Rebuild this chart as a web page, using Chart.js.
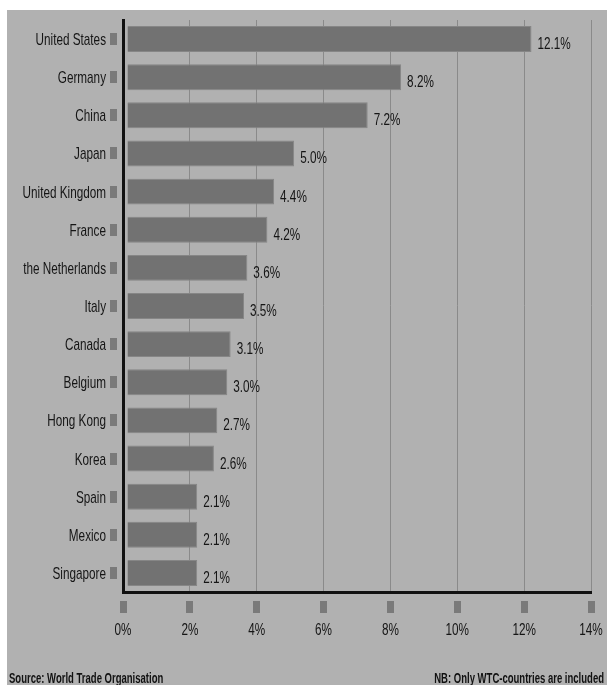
<!DOCTYPE html>
<html>
<head>
<meta charset="utf-8">
<script src="https://cdn.jsdelivr.net/npm/chart.js@4"></script>
<style>
  body { margin: 0; background: #fff; }
  #wrap { position: absolute; left: 7px; top: 10px; width: 600px; height: 675px; background: #b1b1b1; overflow: hidden; }
  #chart { position: absolute; left: 0; top: 0; }
</style>
</head>
<body>
<div id="wrap">
  <canvas id="chart" width="600" height="675"></canvas>
</div>
<script>
const countries = ["United States", "Germany", "China", "Japan", "United Kingdom", "France",
  "the Netherlands", "Italy", "Canada", "Belgium", "Hong Kong", "Korea", "Spain", "Mexico", "Singapore"];
const shares = [12.1, 8.2, 7.2, 5.0, 4.4, 4.2, 3.6, 3.5, 3.1, 3.0, 2.7, 2.6, 2.1, 2.1, 2.1];
const xTicks = [0, 2, 4, 6, 8, 10, 12, 14];
const sourceNote = "Source: World Trade Organisation";
const nbNote = "NB: Only WTC-countries are included";

const fontName = '"Liberation Sans", Arial, sans-serif';

// the original uses a narrow font, so squeeze the text horizontally
function narrowText(ctx, text, x, y, align, squeeze) {
  ctx.save();
  ctx.translate(x, y);
  ctx.scale(squeeze, 1);
  ctx.textAlign = align;
  ctx.textBaseline = "alphabetic";
  ctx.fillText(text, 0, 0);
  ctx.restore();
}

// shift the bars a few px off the axis, like the original
const barShift = {
  id: "barShift",
  beforeDatasetsDraw(chart) { chart.ctx.save(); chart.ctx.translate(4, 0); },
  afterDatasetsDraw(chart) { chart.ctx.restore(); }
};

// tick labels, little grey squares, value labels and footer
const decorations = {
  id: "decorations",
  afterDraw(chart) {
    const ctx = chart.ctx;
    const area = chart.chartArea;
    const xs = chart.scales.x, ys = chart.scales.y;
    ctx.save();
    ctx.fillStyle = "#7a7a7a";
    ys.ticks.forEach((t, i) => {
      const y = ys.getPixelForTick(i);
      ctx.fillRect(area.left - 13, Math.round(y - 6), 7, 12);
    });
    xs.ticks.forEach((t, i) => {
      const x = xs.getPixelForTick(i);
      ctx.fillRect(Math.round(x - 3.5), area.bottom + 9, 7, 12);
    });

    ctx.fillStyle = "#151515";
    ctx.font = "17px " + fontName;
    ys.ticks.forEach((t, i) => {
      narrowText(ctx, countries[i], area.left - 17, ys.getPixelForTick(i) + 6, "right", 0.69);
    });
    xs.ticks.forEach((t, i) => {
      narrowText(ctx, xTicks[i] + "%", xs.getPixelForTick(i), area.bottom + 43, "center", 0.69);
    });
    chart.getDatasetMeta(0).data.forEach((bar, i) => {
      narrowText(ctx, shares[i].toFixed(1) + "%", bar.x + 4 + 6, bar.y + 10, "left", 0.69);
    });

    ctx.fillStyle = "#111";
    ctx.font = "bold 14px " + fontName;
    narrowText(ctx, sourceNote, 2, 673, "left", 0.68);
    narrowText(ctx, nbNote, chart.width - 3, 673, "right", 0.68);
    ctx.restore();
  }
};

new Chart(document.getElementById("chart"), {
  type: "bar",
  data: {
    labels: countries,
    datasets: [{
      data: shares,
      backgroundColor: "#727272",
      borderColor: "#868686",
      borderWidth: 1,
      barPercentage: 0.68,
      categoryPercentage: 1
    }]
  },
  options: {
    indexAxis: "y",
    responsive: false,
    animation: false,
    layout: { padding: { top: 10, right: 16, left: 0, bottom: 0 } },
    plugins: {
      legend: { display: false },
      tooltip: { enabled: false }
    },
    scales: {
      x: {
        min: 0,
        max: 14,
        afterBuildTicks: (scale) => { scale.ticks = xTicks.map(v => ({ value: v })); },
        afterFit: (scale) => { scale.height = 93; scale.paddingLeft = 0; scale.paddingRight = 0; },
        grid: { color: "#8a8a8a", lineWidth: 1, drawTicks: false },
        border: { color: "#111", width: 3 },
        ticks: { display: false }
      },
      y: {
        afterFit: (scale) => { scale.width = 116; scale.paddingTop = 0; scale.paddingBottom = 0; },
        grid: { display: false, drawTicks: false },
        border: { color: "#111", width: 3 },
        ticks: { display: false }
      }
    }
  },
  plugins: [barShift, decorations]
});
</script>
</body>
</html>
